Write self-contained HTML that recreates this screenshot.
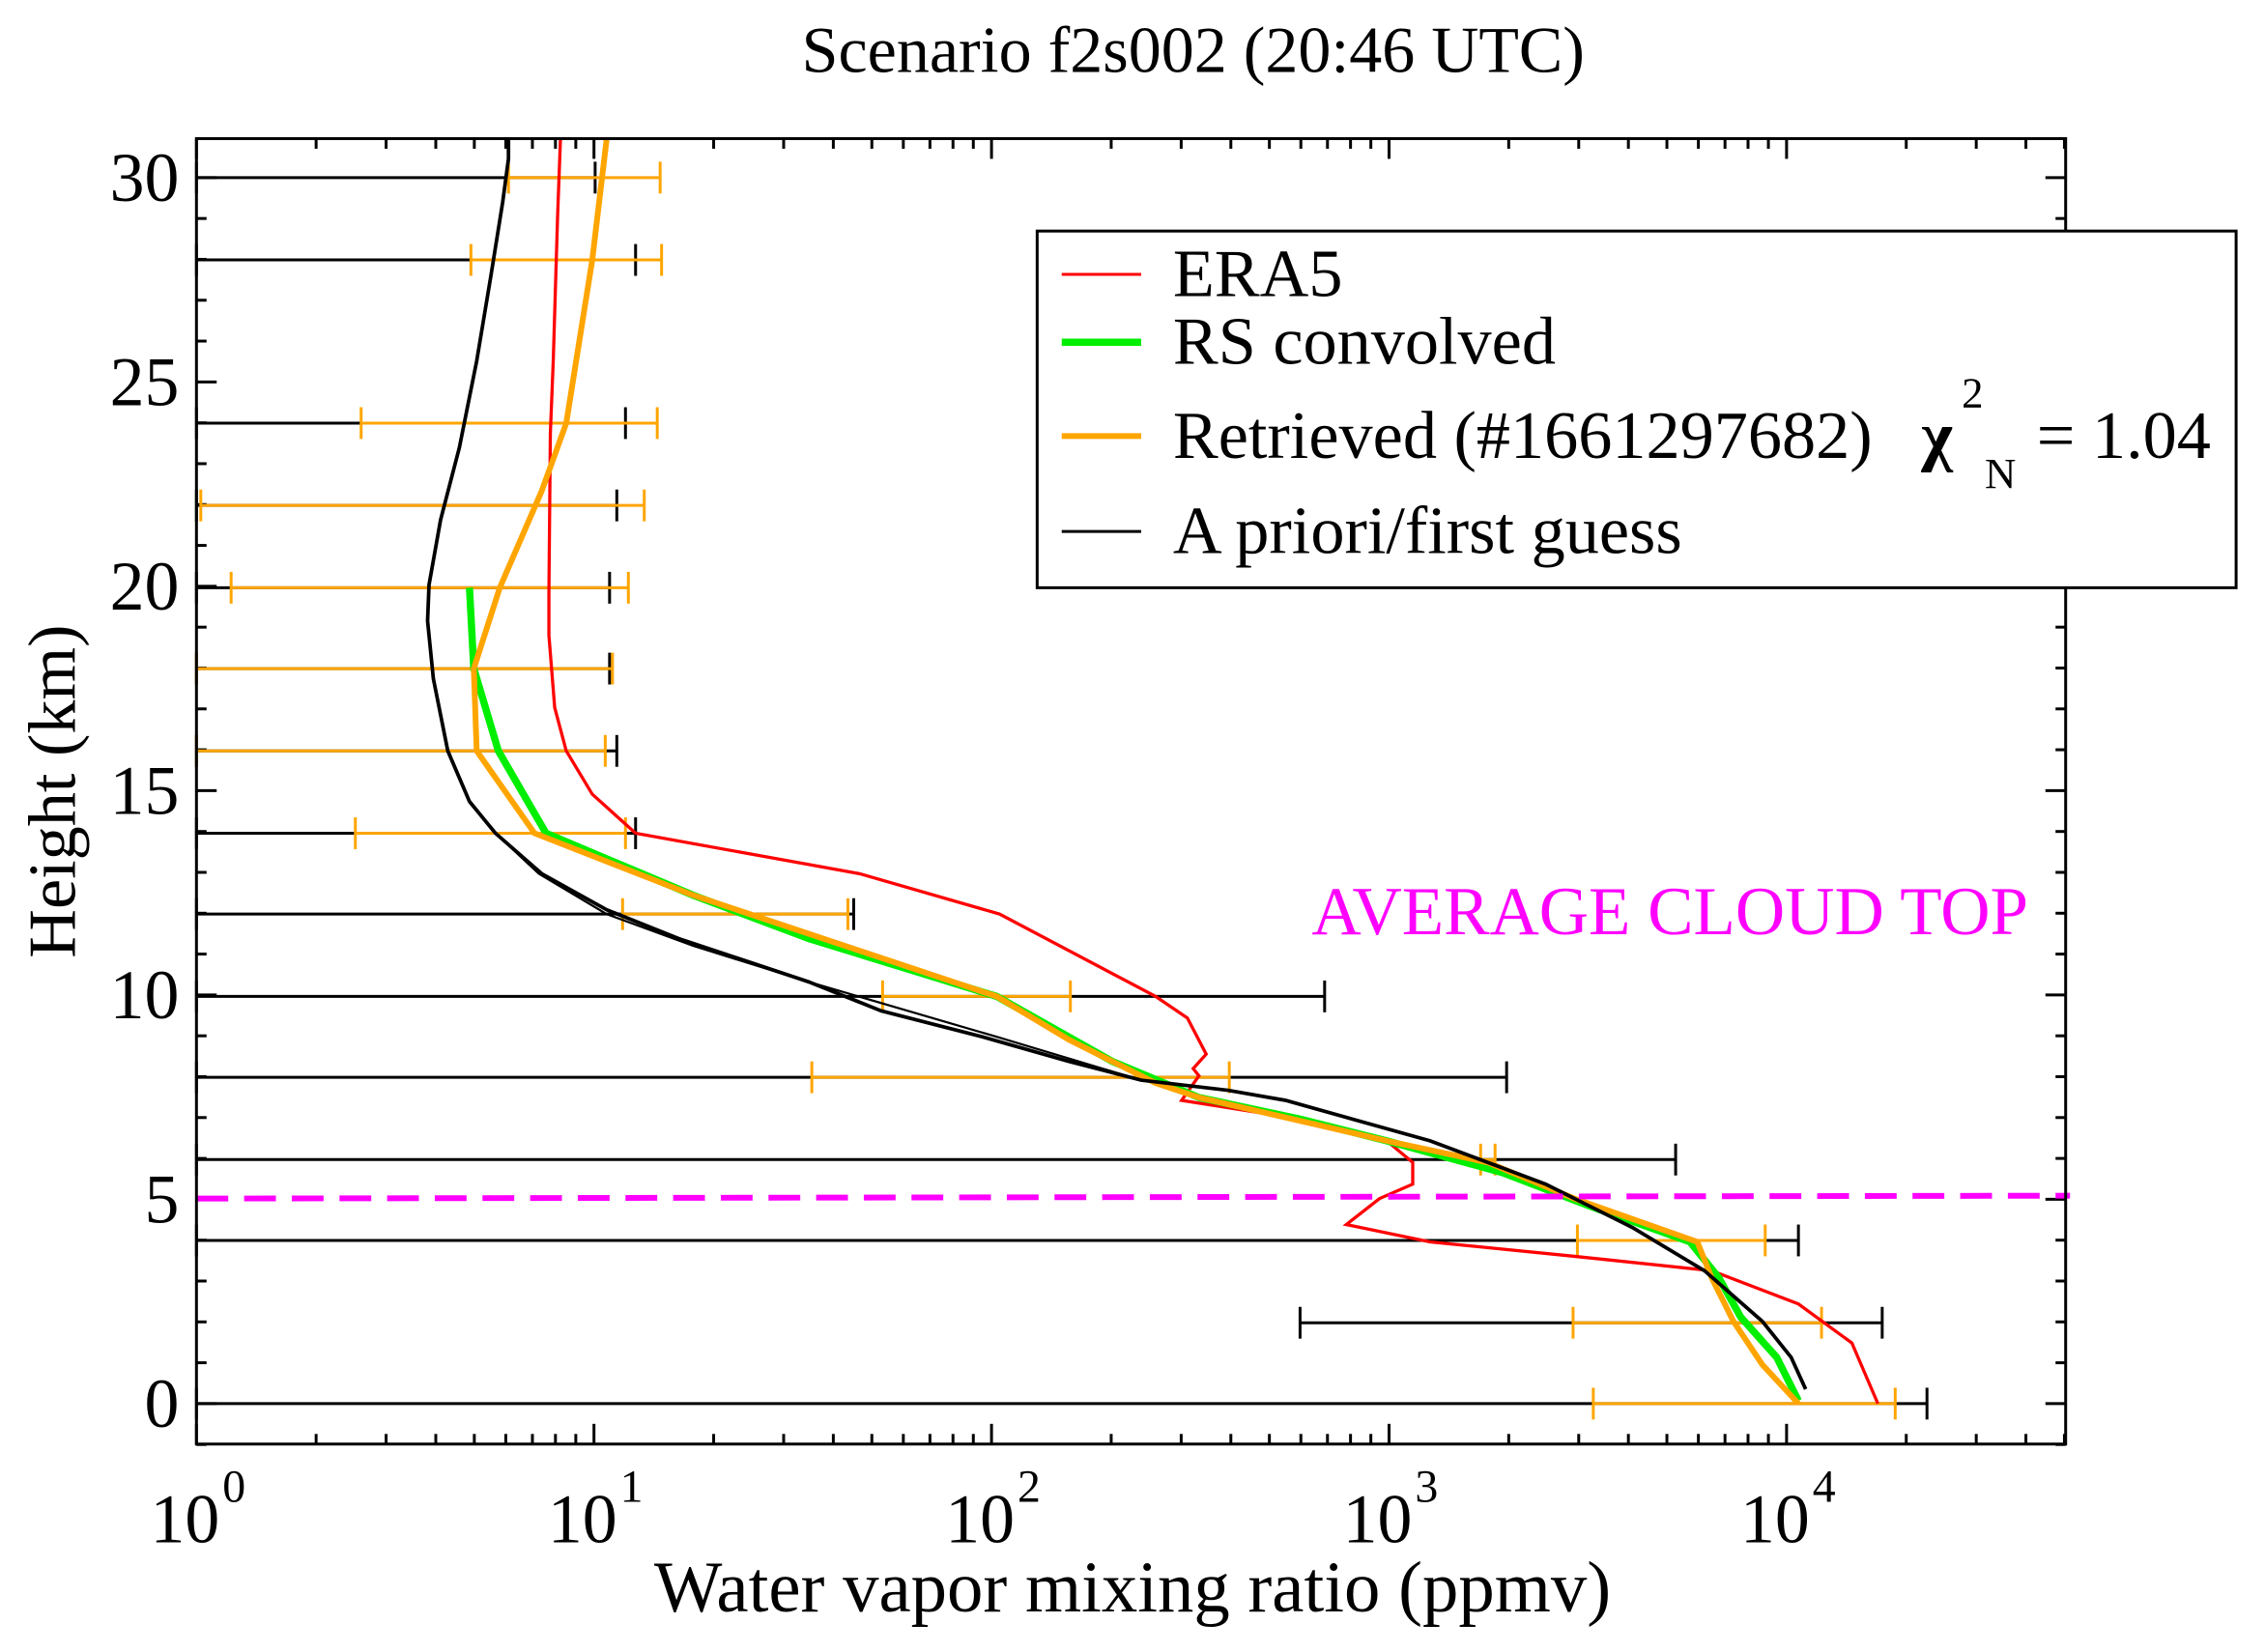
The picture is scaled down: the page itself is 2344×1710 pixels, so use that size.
<!DOCTYPE html>
<html><head><meta charset="utf-8"><style>
html,body{margin:0;padding:0;background:#fff;}
svg{display:block;}
text{font-family:"Liberation Serif",serif;fill:#000;}
</style></head><body>
<svg width="2344" height="1710" viewBox="0 0 1568 1144" preserveAspectRatio="none" xmlns="http://www.w3.org/2000/svg">
<rect width="1600" height="1200" fill="#fff"/>
<text x="826" y="50" font-size="45.5" text-anchor="middle">Scenario f2s002 (20:46 UTC)</text>
<g id="ticks" stroke="#000" stroke-width="2" fill="none"></g>
<g id="eb" fill="none" stroke-width="2"></g>
<polyline fill="none" stroke="#ff0000" stroke-width="2.2" points="388,96 386,150 383,250 381,300 380,410 380,440 384,490 392,520 410,550 440,577 595,605 692,633 800,690 822,705 835,730 826,740 830,745 818,762 900,775 960,790 978,805 978,820 955,830 932,848 990,860 1090,870 1185,880 1245,903 1282,930 1300,972"/>
<polyline fill="none" stroke="#000" stroke-width="1.5" points="343,577 373,605 420,633 480,655 560,680 690,718 790,748"/>
<polyline fill="none" stroke="#00ee00" stroke-width="5" points="325,407 328,463 345,520 378,577 480,620 560,650 690,690 770,735 830,760 900,775 960,790 1040,812 1100,835 1170,860 1190,885 1205,912 1230,940 1245,970"/>
<polyline fill="none" stroke="#ffa500" stroke-width="4" points="420,96 410,180 392,293 375,340 346,407 328,463 330,520 370,577 480,620 690,690 740,720 800,750 830,760 960,790 1030,805 1090,830 1175,860 1185,885 1200,915 1220,945 1245,972"/>
<polyline fill="none" stroke="#000" stroke-width="2.5" points="352,96 352,110 348,140 340,190 330,250 318,310 305,360 297,405 296,430 300,470 310,520 325,555 343,577 375,605 420,630 470,650 560,680 610,700 680,718 740,735 790,748 850,755 890,762 990,790 1070,820 1130,850 1180,880 1220,915 1240,940 1250,962"/>
<line x1="136" y1="830" x2="1433" y2="828" stroke="#ff00ff" stroke-width="4" stroke-dasharray="22,11"/>
<text x="908" y="647" font-size="47.5" style="fill:#ff00ff">AVERAGE CLOUD TOP</text>
<rect x="136" y="96" width="1294" height="904" fill="none" stroke="#000" stroke-width="2"/>
<g id="lab"></g>
<rect x="718" y="160" width="830" height="247" fill="#fff" stroke="#000" stroke-width="2"/>
<line x1="735" y1="190" x2="790" y2="190" stroke="#ff0000" stroke-width="2"/>
<text x="812" y="205" font-size="47">ERA5</text>
<line x1="735" y1="237" x2="790" y2="237" stroke="#00ee00" stroke-width="5"/>
<text x="812" y="252" font-size="47">RS convolved</text>
<line x1="735" y1="302" x2="790" y2="302" stroke="#ffa500" stroke-width="4"/>
<text x="812" y="317" font-size="47">Retrieved (#1661297682)</text>
<text x="1330" y="317" font-size="47" font-weight="bold">χ</text>
<text x="1358" y="282" font-size="30">2</text>
<text x="1374" y="338" font-size="30">N</text>
<text x="1410" y="317" font-size="47">= 1.04</text>
<line x1="735" y1="368" x2="790" y2="368" stroke="#000" stroke-width="2"/>
<text x="812" y="383" font-size="47">A priori/first guess</text>
<text x="784" y="1116" font-size="50" text-anchor="middle">Water vapor mixing ratio (ppmv)</text>
<text transform="translate(52,548) rotate(-90)" font-size="47" text-anchor="middle">Height (km)</text>
<script>
(function(){
var NS="http://www.w3.org/2000/svg";
function el(p,n,a,t){var e=document.createElementNS(NS,n);for(var k in a)e.setAttribute(k,a[k]);if(t!==undefined)e.textContent=t;p.appendChild(e);return e;}
var T=document.getElementById('ticks'),L=document.getElementById('lab');
var X=function(v){return 136+275.2*Math.log10(v);};
for(var d=0;d<5;d++){for(var m=1;m<10;m++){var x=X(m*Math.pow(10,d));if(x>1430)break;var len=m==1?14:7;
el(T,'line',{x1:x,y1:1000,x2:x,y2:1000-len});el(T,'line',{x1:x,y1:96,x2:x,y2:96+len});}
}
for(var d=0;d<5;d++){var x=X(Math.pow(10,d));el(L,'text',{x:x-8,y:1068,'font-size':48,'text-anchor':'middle'},'10');
el(L,'text',{x:x+18,y:1040,'font-size':32},String(d));}
for(var h=-1;h<=30;h++){var y=972-28.3*h;var len=(h%5==0)?14:7;
el(T,'line',{x1:136,y1:y,x2:136+len,y2:y});el(T,'line',{x1:1430,y1:y,x2:1430-len,y2:y});
if(h>=0&&h%5==0)el(L,'text',{x:124,y:y+16,'font-size':48,'text-anchor':'end'},String(h));}
var E=document.getElementById('eb');
var blk=[[123,136,412],[180,136,440],[293,136,433],[350,136,427],[407,136,422],[463,136,422],[520,136,427],[577,136,440],[633,136,591],[690,136,917],[746,136,1043],[803,136,1160],[859,136,1245],[916,900,1303],[972,136,1334]];
var org=[[123,352,457],[180,326,458],[293,250,455],[350,139,446],[407,160,435],[463,136,424],[520,136,419],[577,246,433],[633,431,587],[690,611,741],[746,562,851],[803,1025,1035],[859,1092,1222],[916,1089,1261],[972,1103,1312]];
function bars(a,c){a.forEach(function(b){el(E,'line',{x1:b[1],y1:b[0],x2:b[2],y2:b[0],stroke:c});
[b[1],b[2]].forEach(function(x){el(E,'line',{x1:x,y1:b[0]-11,x2:x,y2:b[0]+11,stroke:c});});});}
bars(blk,'#000');bars(org,'#ffa500');
})();
</script>
</svg>
</body></html>
